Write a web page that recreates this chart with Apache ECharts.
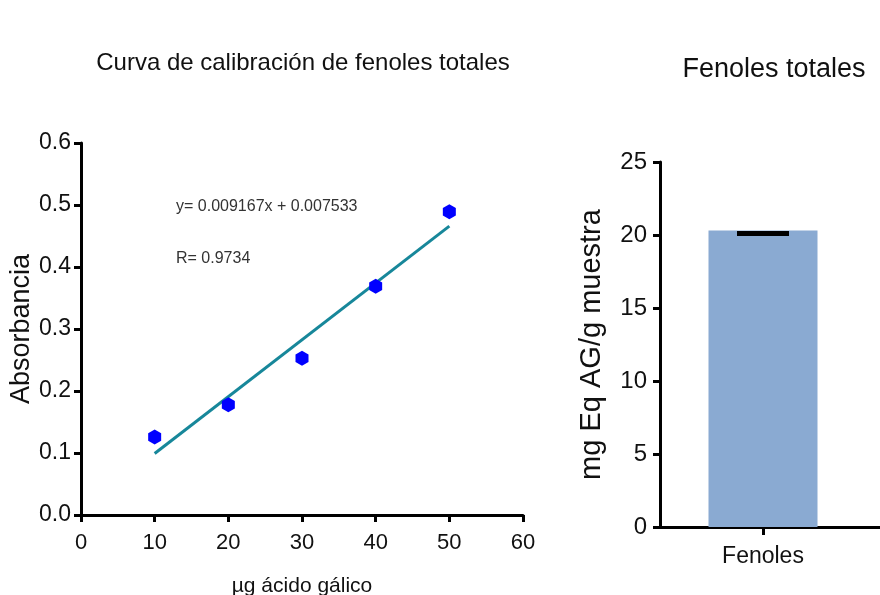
<!DOCTYPE html>
<html>
<head>
<meta charset="utf-8">
<script src="https://cdn.jsdelivr.net/npm/echarts@6/dist/echarts.min.js"></script>
<style>
  html, body { margin: 0; padding: 0; background: #fff; }
  #chart { width: 880px; height: 595px; }
</style>
</head>
<body>
<div id="chart"></div>
<script>
// Calibration standards: gallic acid mass (µg) vs absorbance
const concentrations = [10, 20, 30, 40, 50];
const absorbances = [0.126, 0.178, 0.253, 0.369, 0.489];

// Linear fit y = 0.009167x + 0.007533 evaluated at the ends of the standard range
const fitX = [10, 50];
const fitY = [0.0992, 0.4659];

const fitEquation = 'y= 0.009167x + 0.007533';
const fitR = 'R= 0.9734';

// Total phenolics in the sample
const categories = ['Fenoles'];
const barValues = [20.3];
const errorCap = [20.1];

const FONT = 'Liberation Sans, Arial, sans-serif';
const INK = '#111';

const axisLineStyle = { show: true, lineStyle: { color: '#000', width: 3 } };
const axisTickStyle = { show: true, length: 7, lineStyle: { color: '#000', width: 3 } };

const hexagon = 'path://M0,-1 L0.866,-0.5 L0.866,0.5 L0,1 L-0.866,0.5 L-0.866,-0.5 Z';

const chart = echarts.init(document.getElementById('chart'), null, { renderer: 'canvas' });

chart.setOption({
  animation: false,
  backgroundColor: '#fff',
  textStyle: { fontFamily: FONT },
  title: [
    {
      text: 'Curva de calibración de fenoles totales',
      left: 298, top: 46, textAlign: 'center',
      textStyle: { fontFamily: FONT, fontSize: 24, fontWeight: 'normal', color: INK }
    },
    {
      text: 'Fenoles totales',
      left: 769, top: 51, textAlign: 'center',
      textStyle: { fontFamily: FONT, fontSize: 27, fontWeight: 'normal', color: INK }
    }
  ],
  grid: [
    { left: 81, top: 143, width: 442, height: 372, containLabel: false, outerBoundsMode: 'none' },
    { left: 660, top: 162, width: 206, height: 365, containLabel: false, outerBoundsMode: 'none' },
    // full-width baseline of the bar panel
    { left: 660, top: 162, width: 220, height: 365, containLabel: false, outerBoundsMode: 'none' }
  ],
  xAxis: [
    {
      gridIndex: 0, type: 'value', min: 0, max: 60, interval: 10,
      name: 'µg ácido gálico', nameLocation: 'middle', nameGap: 61, nameMoveOverlap: false,
      nameTextStyle: { fontFamily: FONT, fontSize: 21, color: INK, verticalAlign: 'top' },
      axisLine: axisLineStyle, axisTick: axisTickStyle,
      axisLabel: { fontFamily: FONT, fontSize: 22, color: INK, margin: 17 },
      splitLine: { show: false }
    },
    {
      gridIndex: 1, type: 'category', data: categories,
      axisLine: axisLineStyle,
      axisTick: { show: true, alignWithLabel: true, length: 8, lineStyle: { color: '#000', width: 3 } },
      axisLabel: { fontFamily: FONT, fontSize: 23, color: INK, margin: 18 },
      splitLine: { show: false }
    },
    {
      gridIndex: 2, type: 'category', data: categories,
      axisLine: axisLineStyle,
      axisTick: { show: false }, axisLabel: { show: false },
      splitLine: { show: false }
    }
  ],
  yAxis: [
    {
      gridIndex: 0, type: 'value', min: 0, max: 0.6, interval: 0.1,
      name: 'Absorbancia', nameLocation: 'middle', nameGap: 46, nameRotate: 90, nameMoveOverlap: false,
      nameTextStyle: { fontFamily: FONT, fontSize: 27, color: INK },
      axisLine: axisLineStyle, axisTick: axisTickStyle,
      axisLabel: { fontFamily: FONT, fontSize: 23, color: INK, margin: 10,
        formatter: v => v.toFixed(1) },
      splitLine: { show: false }
    },
    {
      gridIndex: 1, type: 'value', min: 0, max: 25, interval: 5,
      name: 'mg Eq AG/g muestra', nameLocation: 'middle', nameGap: 54, nameRotate: 90,
      nameTextStyle: { fontFamily: FONT, fontSize: 29, color: INK },
      axisLine: axisLineStyle, axisTick: axisTickStyle,
      axisLabel: { fontFamily: FONT, fontSize: 24, color: INK, margin: 13 },
      splitLine: { show: false }
    },
    {
      gridIndex: 2, type: 'value', min: 0, max: 25, show: false
    }
  ],
  graphic: [
    {
      type: 'text', left: 176, top: 199,
      style: { text: fitEquation, font: '16px ' + FONT, fill: '#333' }
    },
    {
      type: 'text', left: 176, top: 251,
      style: { text: fitR, font: '16px ' + FONT, fill: '#333' }
    }
  ],
  series: [
    {
      name: 'Ajuste lineal', type: 'line',
      xAxisIndex: 0, yAxisIndex: 0,
      data: fitX.map((x, i) => [x, fitY[i]]),
      symbol: 'none',
      lineStyle: { color: '#17879a', width: 3 },
      z: 2
    },
    {
      name: 'Estándares', type: 'scatter',
      xAxisIndex: 0, yAxisIndex: 0,
      data: concentrations.map((x, i) => [x, absorbances[i]]),
      symbol: hexagon, symbolSize: [13, 15],
      itemStyle: { color: '#0000ff', opacity: 1 },
      z: 3
    },
    {
      name: 'Fenoles totales', type: 'bar',
      xAxisIndex: 1, yAxisIndex: 1,
      data: barValues,
      barWidth: 109,
      itemStyle: { color: '#8aaad2' },
      z: 2
    },
    {
      name: 'Error', type: 'custom',
      xAxisIndex: 1, yAxisIndex: 1,
      data: errorCap.map((v, i) => [i, v]),
      renderItem: (params, api) => {
        const p = api.coord([api.value(0), api.value(1)]);
        return {
          type: 'line',
          shape: { x1: p[0] - 26, y1: p[1], x2: p[0] + 26, y2: p[1] },
          style: { stroke: '#000', lineWidth: 5 }
        };
      },
      z: 4
    }
  ]
});
</script>
</body>
</html>
